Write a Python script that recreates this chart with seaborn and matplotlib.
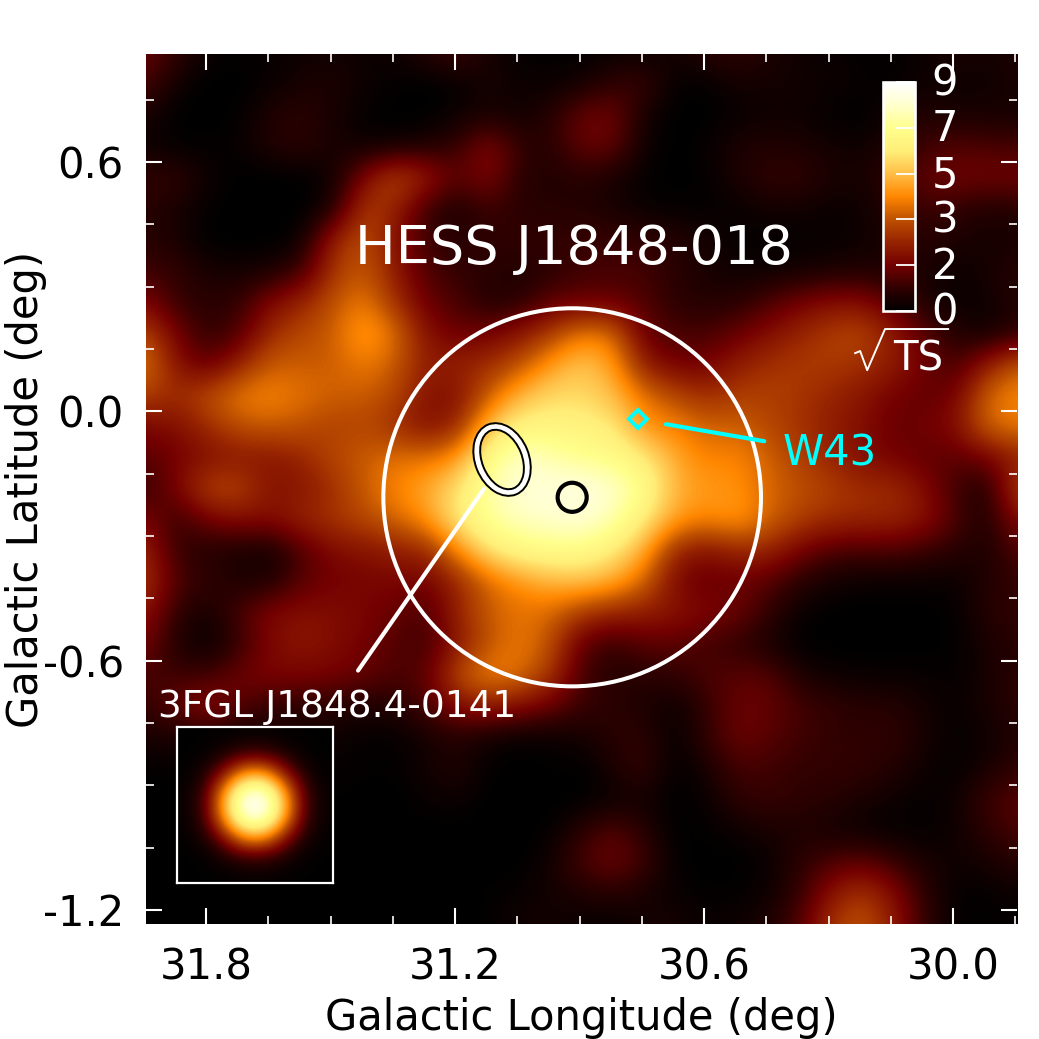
import numpy as np
import seaborn as sns
import matplotlib.pyplot as plt
from matplotlib.colors import LinearSegmentedColormap
from matplotlib.patches import Circle, Ellipse
from matplotlib.ticker import MultipleLocator, FormatStrFormatter
from matplotlib.transforms import ScaledTranslation

# sqrt(TS) map, on the colour bar's own 0-10 position scale
ts_map = [
    [1.8,1.0,.2,.1,.2,.3,.4,.3,.3,.8,1.2,.5,.1,.1,.1,.2,.2,.4,.8,1.0,.6,.3,.2,.1,.1,.3,.6,.4,.6],
    [1.4,.3,0,0,.2,.5,.6,.3,.1,0,.1,.5,.3,.2,.4,1.0,1.2,.1,.1,.4,.4,.4,.3,.2,.1,.3,.3,.3,.6],
    [.5,0,0,.1,.7,.9,.5,.1,0,0,.3,.5,.3,.8,1.9,2.0,.4,0,0,.2,.3,.3,.1,0,.5,.7,.5,.5,.4],
    [.3,.1,.1,.2,.7,.9,.5,.3,.3,.6,1.0,2.4,1.0,.8,1.8,1.8,.3,0,.2,.6,.7,.6,.4,.3,.7,1.2,1.5,1.4,1.3],
    [1.0,1.0,.3,0,0,0,.3,2.2,4.0,3.0,1.6,2.3,.8,.6,.8,.5,.1,0,.1,.6,1.0,1.0,.6,.5,1.0,1.8,2.0,2.0,2.0],
    [.8,.5,.1,0,0,0,.5,3.6,3.0,1.0,.5,1.2,.8,.8,.7,.5,.2,.1,.1,.2,.4,.4,.2,.3,.8,1.2,1.0,.6,.8],
    [.8,.5,0,0,0,.2,3.0,4.0,2.5,1.2,.8,.9,1.0,1.0,1.1,1.1,1.0,.8,.5,.1,.1,.1,.2,.3,.6,.8,.6,.4,.5],
    [1.2,1.0,.5,.4,.5,1.2,3.4,4.2,2.8,1.4,1.0,.9,.6,.9,1.2,1.3,1.3,.8,.5,.3,.3,.4,.5,.6,.5,.6,.2,.5,.8],
    [2.2,1.0,.8,1.0,2.3,3.0,4.0,4.8,3.3,1.8,1.4,.6,.8,1.6,1.8,1.8,1.4,.9,.7,.8,1.4,2.0,2.4,2.4,1.5,.6,.2,.3,.8],
    [3.7,2.0,.9,1.4,3.2,3.8,4.2,5.6,4.6,2.5,1.8,2.0,2.6,3.6,4.8,4.5,1.8,1.3,1.3,1.8,2.4,3.0,3.6,3.8,2.8,1.6,.7,.3,.8],
    [4.7,2.5,1.6,3.0,4.2,4.2,4.2,4.8,4.2,2.8,3.0,3.2,4.0,5.3,6.2,5.4,2.8,2.0,2.0,2.8,3.3,3.5,3.5,3.3,2.8,2.0,1.2,2.8,4.2],
    [3.6,3.2,4.0,4.8,5.0,4.6,4.3,4.2,3.8,2.5,2.4,4.2,5.8,6.6,6.6,6.0,4.6,3.8,3.2,3.6,3.6,3.4,3.0,2.6,2.0,1.7,2.0,4.4,5.0],
    [2.2,2.4,3.2,4.0,4.2,4.0,3.6,3.8,3.2,2.4,3.0,6.0,7.4,7.4,7.3,7.0,5.2,4.9,4.3,4.3,3.8,3.3,2.8,2.4,1.8,2.0,2.4,4.4,4.8],
    [1.6,2.0,2.4,2.6,2.6,3.0,3.8,4.2,4.6,4.6,5.2,7.8,9.0,8.5,8.0,7.8,7.0,5.6,4.9,5.0,4.3,3.6,3.0,2.4,2.0,1.7,1.6,2.0,2.8],
    [1.0,2.2,3.8,3.8,2.5,2.6,3.2,4.2,5.0,5.6,6.8,8.4,9.2,9.3,9.5,9.0,8.0,5.8,5.3,5.2,4.4,4.0,3.6,3.2,3.2,2.4,1.2,.5,3.8],
    [2.2,1.0,2.0,2.4,2.4,3.0,3.4,3.8,4.4,5.2,7.0,8.2,8.8,9.0,9.2,8.6,7.0,5.4,5.0,5.4,4.4,3.6,3.2,3.1,3.0,2.6,1.4,.6,2.4],
    [3.0,1.0,.7,.5,.3,1.4,2.3,2.5,2.8,3.0,5.0,6.8,7.6,7.8,7.8,7.0,5.6,3.0,2.4,3.0,3.0,2.0,1.4,1.3,1.4,1.1,.8,.5,1.5],
    [3.4,1.4,1.0,.6,.6,1.6,2.0,2.1,2.2,2.0,3.0,4.4,5.2,5.8,6.0,5.6,4.4,2.2,1.7,1.9,1.5,.8,.4,.2,.2,.2,.2,.7,1.0],
    [2.6,.9,.4,1.4,2.3,2.5,2.4,2.2,1.8,1.3,3.0,4.2,4.6,4.4,3.5,3.0,2.8,2.6,2.3,1.9,1.0,.2,0,0,0,0,.1,.8,1.0],
    [2.0,.6,.1,1.0,2.3,2.6,2.4,2.0,1.5,1.2,2.6,4.0,4.8,4.0,1.6,1.0,1.6,1.6,1.2,.9,.5,0,0,0,0,0,.1,.5,.8],
    [1.3,1.2,1.2,2.0,2.2,2.2,2.1,1.8,1.4,1.6,4.0,5.0,4.6,3.4,1.3,.7,.8,1.0,1.4,1.6,1.6,.6,.3,.2,.2,.2,.1,.5,.9],
    [1.0,1.8,2.6,1.5,1.0,.8,.8,.6,.7,1.4,2.4,2.8,2.4,1.8,1.1,.9,.6,.2,1.0,1.9,1.8,1.3,1.0,.8,.8,.4,.2,.5,.9],
    [.5,.5,.5,.4,.4,.4,.3,.1,.1,.4,.7,.3,.1,.2,.4,.8,.9,.1,1.0,1.9,1.6,1.2,1.0,.9,1.0,.5,.1,.3,.7],
    [.1,.1,.1,.1,.1,.1,.2,.1,.1,.4,.7,.1,0,.1,0,.6,1.1,0,.5,1.3,1.2,1.0,1.0,1.0,.7,.3,.1,.5,1.0],
    [0,0,0,0,0,0,.1,0,0,.2,.3,0,0,0,0,.2,.4,0,.2,.9,1.1,.9,.8,.5,.3,.1,.3,1.2,1.6],
    [0,0,0,0,0,0,0,0,0,0,0,0,0,.1,.9,1.6,.8,0,.1,.3,.5,.6,.4,.2,.1,.1,.3,.9,1.4],
    [0,0,0,0,0,0,0,0,0,0,0,0,0,.4,1.4,2.0,1.2,.1,0,0,.2,.9,1.4,1.7,1.1,.5,.3,.5,.8],
    [0,0,0,0,0,0,0,0,0,0,0,.1,.2,.4,.6,.8,.5,.2,.1,.1,.3,1.0,2.6,3.4,2.4,.9,.1,.1,.3],
    [0,0,0,0,0,0,0,0,0,0,0,.1,.4,.4,.2,.1,.4,.5,.2,.3,.6,1.5,3.4,4.1,2.8,1.0,.1,.1,.1],
]

# the point spread function in the corner box
psf_map = [
    [.02,.03,.05,.08,.1,.12,.12,.12,.1,.08,.05,.03,.02],
    [.03,.05,.1,.15,.25,.4,.4,.4,.25,.15,.1,.05,.03],
    [.05,.1,.15,.4,.8,1.2,1.4,1.2,.8,.4,.15,.1,.05],
    [.08,.15,.4,1.1,2.4,3.6,4,3.6,2.4,1.1,.4,.15,.08],
    [.1,.25,.8,2.4,4.4,6.0,6.6,6.0,4.4,2.4,.8,.25,.1],
    [.12,.4,1.2,3.6,6.0,8.2,9,8.2,6.0,3.6,1.2,.4,.12],
    [.12,.4,1.4,4,6.6,9,10,9,6.6,4,1.4,.4,.12],
    [.12,.4,1.2,3.6,6.0,8.2,9,8.2,6.0,3.6,1.2,.4,.12],
    [.1,.25,.8,2.4,4.4,6.0,6.6,6.0,4.4,2.4,.8,.25,.1],
    [.08,.15,.4,1.1,2.4,3.6,4,3.6,2.4,1.1,.4,.15,.08],
    [.05,.1,.15,.4,.8,1.2,1.4,1.2,.8,.4,.15,.1,.05],
    [.03,.05,.1,.15,.25,.4,.4,.4,.25,.15,.1,.05,.03],
    [.02,.03,.05,.08,.1,.12,.12,.12,.1,.08,.05,.03,.02],
]

cbar_ticks = [0, 2, 4, 6, 8, 10]
cbar_labels = ['0', '2', '3', '5', '7', '9']
cmap_colors = ['#000000', '#320000', '#730000', '#962300', '#BE5000', '#FF8700',
               '#FFBE46', '#FFEE78', '#FFFF8C', '#FFFFCD', '#FFFFFF']

W = 1039.0
cmap = LinearSegmentedColormap.from_list('ts', cmap_colors)

fig = plt.figure(figsize=(10.39, 10.39), dpi=100)
pos = [146 / W, (W - 924) / W, 871 / W, 870 / W]


def smooth_heatmap(grid, a, **kws):
    # heatmap sets up the mesh and colour bar, imshow on top gives the smoothed look of the sky map
    n = len(grid) - 1
    sns.heatmap(np.array(grid), ax=a, cmap=cmap, vmin=0, vmax=10, shading='gouraud',
                xticklabels=False, yticklabels=False, **kws)
    a.imshow(np.array(grid), cmap=cmap, vmin=0, vmax=10, interpolation='bicubic', aspect='auto',
             extent=(-0.5, n + 0.5, n + 0.5, -0.5), zorder=2)
    a.set_xlim(0, n)
    a.set_ylim(n, 0)


# the map itself
ax = fig.add_axes(pos)
cax = fig.add_axes([883 / W, (W - 311) / W, 32 / W, 229 / W])
smooth_heatmap(ts_map, ax, cbar_ax=cax)
ax.set_axis_off()

# overlay in galactic coordinates for ticks and annotations
gal = fig.add_axes(pos, facecolor='none')
gal.set_xlim(31.945, 29.846)
gal.set_ylim(-1.234, 0.86)
for s in gal.spines.values():
    s.set_visible(False)
gal.xaxis.set_major_locator(MultipleLocator(0.6))
gal.yaxis.set_major_locator(MultipleLocator(0.6))
gal.xaxis.set_minor_locator(MultipleLocator(0.15))
gal.yaxis.set_minor_locator(MultipleLocator(0.15))
gal.xaxis.set_major_formatter(FormatStrFormatter('%.1f'))
gal.yaxis.set_major_formatter(FormatStrFormatter('%.1f'))
gal.tick_params(which='both', direction='in', top=True, right=True, color='white')
gal.tick_params(which='major', length=11.5, width=1.5, labelsize=30, pad=16, labelcolor='black')
gal.tick_params(which='minor', length=5.8, width=1.2)
gal.set_xlabel('Galactic Longitude (deg)', fontsize=30, labelpad=6)
gal.set_ylabel('Galactic Latitude (deg)', fontsize=30, labelpad=-3)

gal.add_patch(Circle((30.918, -0.207), 0.455, fill=False, ec='white', lw=2.9))
gal.add_patch(Circle((30.918, -0.207), 0.035, fill=False, ec='black', lw=3.0))
gal.add_patch(Ellipse((31.087, -0.116), 2 * 34 / 415, 2 * 23.5 / 415, angle=68, fill=False, ec='white', lw=3.8))
gal.add_patch(Ellipse((31.087, -0.116), 2 * 37.6 / 415, 2 * 27 / 415, angle=68, fill=False, ec='black', lw=1.4))
gal.add_patch(Ellipse((31.087, -0.116), 2 * 31 / 415, 2 * 20 / 415, angle=68, fill=False, ec='black', lw=1.4))
gal.plot([31.434, 31.130], [-0.624, -0.186], color='white', lw=3.0, solid_capstyle='round')
gal.plot([30.692, 30.455], [-0.031, -0.072], color='cyan', lw=3.0, solid_capstyle='round')
gal.plot([30.759], [-0.019], marker='D', ms=9, mfc='none', mec='cyan', mew=2.8)

gal.text(31.441, 0.354, 'HESS J1848-018', color='white', fontsize=39, va='baseline')
gal.text(31.916, -0.735, '3FGL J1848.4-0141', color='white', fontsize=27, va='baseline')
gal.text(30.410, -0.130, 'W43', color='cyan', fontsize=30, va='baseline')

# root sign above TS
gal.plot([30.236, 30.224, 30.207, 30.164, 30.012], [0.140, 0.145, 0.099, 0.198, 0.198], color='white', lw=1.4)
gal.text(30.145, 0.099, 'TS', color='white', fontsize=29, va='baseline')

# colour bar
cbar = ax.collections[0].colorbar
cbar.set_ticks(cbar_ticks)
cbar.set_ticklabels(cbar_labels)
cbar.ax.tick_params(direction='in', length=14, width=1.3, color='white', labelcolor='white', labelsize=30, pad=12)
for t in cbar.ax.get_yticklabels():
    t.set_transform(t.get_transform() + ScaledTranslation(0, 3 / 100, fig.dpi_scale_trans))
cbar.outline.set_edgecolor('white')
cbar.outline.set_linewidth(1.9)
cbar.outline.set_visible(True)

# corner box
box = fig.add_axes([177 / W, (W - 883) / W, 156 / W, 156 / W])
smooth_heatmap(psf_map, box, cbar=False)
for s in box.spines.values():
    s.set_visible(True)
    s.set_color('white')
    s.set_linewidth(1.6)

fig.savefig('out.png', dpi=100)
